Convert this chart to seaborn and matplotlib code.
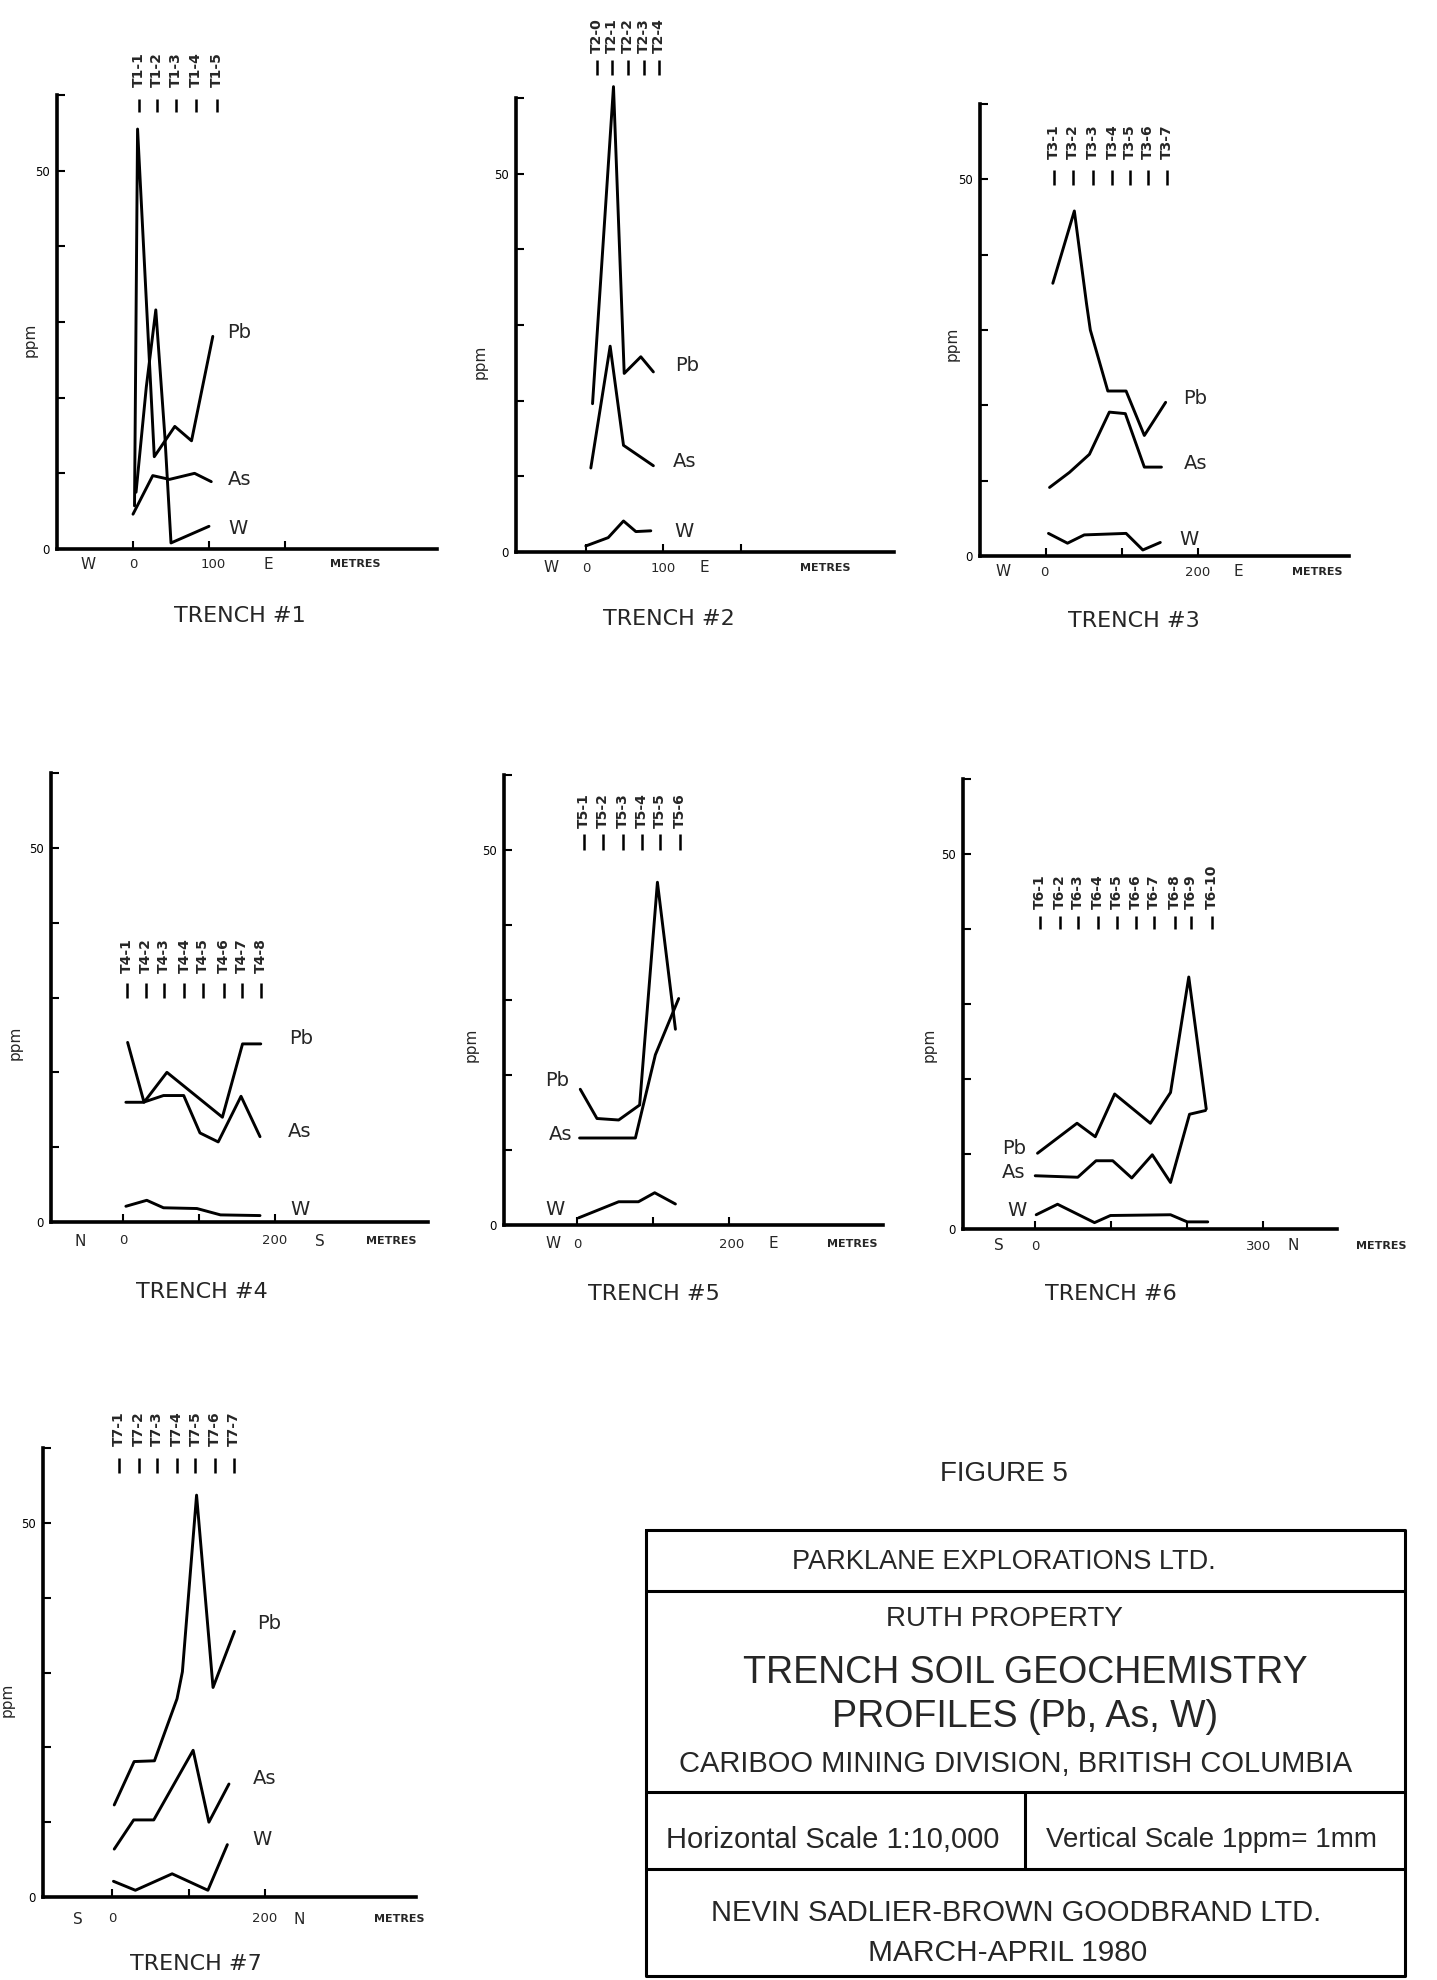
import matplotlib
matplotlib.use("Agg")
import matplotlib.pyplot as plt
import seaborn as sns
import pandas as pd

# ---------------- DATA (metres along trench, ppm) ----------------
T1_STATIONS = [8, 32, 57, 83, 110]
T1_SAMPLES = ["T1-1", "T1-2", "T1-3", "T1-4", "T1-5"]
T1_PB_M = [2, 6, 28, 55, 77, 105]
T1_PB = [5.7, 55.5, 12.2, 16.2, 14.3, 28.1]
T1_AS_M = [0, 26, 48, 81, 103]
T1_AS = [4.6, 9.7, 9.2, 10.0, 8.9]
T1_W_M = [4, 17.5, 30, 42, 50, 100]
T1_W = [7.5, 21.4, 31.6, 14.8, 0.8, 3.0]

T2_STATIONS = [14, 34, 54, 75, 94]
T2_SAMPLES = ["T2-0", "T2-1", "T2-2", "T2-3", "T2-4"]
T2_PB_M = [8.6, 35.6, 49.4, 70.8, 87]
T2_PB = [19.6, 61.5, 23.6, 25.8, 23.8]
T2_AS_M = [6.4, 31.3, 48.5, 87]
T2_AS = [11.1, 27.2, 14.1, 11.4]
T2_W_M = [0, 28.8, 48.5, 64.4, 83.7]
T2_W = [0.8, 1.9, 4.1, 2.7, 2.8]

T3_STATIONS = [10, 35, 61, 87, 110, 134, 159]
T3_SAMPLES = ["T3-1", "T3-2", "T3-3", "T3-4", "T3-5", "T3-6", "T3-7"]
T3_PB_M = [8.7, 37, 53, 58, 81, 105, 129, 157]
T3_PB = [36.2, 45.8, 33.5, 30.0, 21.9, 21.9, 16.0, 20.4]
T3_AS_M = [4.4, 30.6, 56.8, 83, 104, 129, 151.5]
T3_AS = [9.1, 11.1, 13.5, 19.1, 18.9, 11.8, 11.8]
T3_W_M = [3, 28, 50, 105, 127, 150]
T3_W = [3.0, 1.7, 2.8, 3.0, 0.8, 1.8]

T4_STATIONS = [4.4, 29.6, 54, 80.5, 105, 132, 156, 181]
T4_SAMPLES = ["T4-1", "T4-2", "T4-3", "T4-4", "T4-5", "T4-6", "T4-7", "T4-8"]
T4_PB_M = [5.8, 27.4, 57.5, 130.5, 157, 181]
T4_PB = [24.0, 16.0, 20.0, 14.0, 23.8, 23.8]
T4_AS_M = [3.5, 26.5, 53, 79.6, 101, 125, 155, 180]
T4_AS = [16.0, 16.0, 16.9, 16.9, 11.9, 10.7, 16.8, 11.4]
T4_W_M = [3.5, 31, 53, 97, 128, 180]
T4_W = [2.1, 2.9, 1.9, 1.8, 0.95, 0.86]

T5_STATIONS = [8.8, 34.3, 60.2, 85.7, 109, 135.4]
T5_SAMPLES = ["T5-1", "T5-2", "T5-3", "T5-4", "T5-5", "T5-6"]
T5_PB_M = [4.4, 26.4, 55, 82.6, 106, 129.7]
T5_PB = [18.1, 14.2, 14.0, 16.0, 45.7, 26.1]
T5_AS_M = [3.5, 77, 103.3, 134]
T5_AS = [11.6, 11.6, 22.7, 30.2]
T5_W_M = [2.2, 55, 81, 102.4, 129.7]
T5_W = [0.95, 3.1, 3.1, 4.3, 2.8]

T6_STATIONS = [6.6, 32, 56, 83, 108, 132, 156, 184, 205, 232]
T6_SAMPLES = ["T6-1", "T6-2", "T6-3", "T6-4", "T6-5", "T6-6", "T6-7", "T6-8", "T6-9", "T6-10"]
T6_PB_M = [3, 55, 79, 104.5, 151.5, 178, 202, 225]
T6_PB = [10.1, 14.1, 12.3, 18.0, 14.1, 18.2, 33.6, 16.0]
T6_AS_M = [0, 56, 80, 102, 127, 154, 178, 203, 224]
T6_AS = [7.1, 6.9, 9.1, 9.1, 6.8, 9.9, 6.2, 15.3, 15.8]
T6_W_M = [1.3, 29.4, 78, 99, 178, 200, 227]
T6_W = [1.9, 3.3, 0.85, 1.8, 1.9, 0.95, 0.95]

T7_STATIONS = [9.6, 35, 59, 85, 109, 134.5, 159.4]
T7_SAMPLES = ["T7-1", "T7-2", "T7-3", "T7-4", "T7-5", "T7-6", "T7-7"]
T7_PB_M = [3, 29, 55.5, 85, 92, 110.5, 132, 160]
T7_PB = [12.3, 18.1, 18.2, 26.5, 30.1, 53.7, 28.0, 35.5]
T7_AS_M = [3, 28.4, 54.6, 106, 126.6, 152.8]
T7_AS = [6.4, 10.3, 10.3, 19.6, 10.0, 15.1]
T7_W_M = [2, 30.6, 78.6, 125.3, 150.7]
T7_W = [2.1, 0.9, 3.1, 0.9, 7.0]

ELEMENTS = ["Pb", "As", "W"]

SERIES = {
    1: [(T1_PB_M, T1_PB), (T1_AS_M, T1_AS), (T1_W_M, T1_W)],
    2: [(T2_PB_M, T2_PB), (T2_AS_M, T2_AS), (T2_W_M, T2_W)],
    3: [(T3_PB_M, T3_PB), (T3_AS_M, T3_AS), (T3_W_M, T3_W)],
    4: [(T4_PB_M, T4_PB), (T4_AS_M, T4_AS), (T4_W_M, T4_W)],
    5: [(T5_PB_M, T5_PB), (T5_AS_M, T5_AS), (T5_W_M, T5_W)],
    6: [(T6_PB_M, T6_PB), (T6_AS_M, T6_AS), (T6_W_M, T6_W)],
    7: [(T7_PB_M, T7_PB), (T7_AS_M, T7_AS), (T7_W_M, T7_W)],
}
STATIONS = {1: (T1_STATIONS, T1_SAMPLES), 2: (T2_STATIONS, T2_SAMPLES),
            3: (T3_STATIONS, T3_SAMPLES), 4: (T4_STATIONS, T4_SAMPLES),
            5: (T5_STATIONS, T5_SAMPLES), 6: (T6_STATIONS, T6_SAMPLES),
            7: (T7_STATIONS, T7_SAMPLES)}

# ---------------- LAYOUT ----------------
W_PX, H_PX = 1437, 1980
PANEL_PX = {1: (57, 437, 95, 549), 2: (516, 894, 98, 552), 3: (980, 1349, 104, 556),
            4: (51, 428, 773, 1222), 5: (504, 883, 775, 1225), 6: (963, 1337, 779, 1229),
            7: (43, 416, 1448, 1897)}
XLIM = {1: (-100, 400), 2: (-90, 397), 3: (-87, 398), 4: (-95, 401),
        5: (-96, 403), 6: (-95, 397), 7: (-90, 397)}
XTICKS = {1: [0, 100, 200], 2: [0, 100, 200], 3: [0, 100, 200], 4: [0, 100, 200],
          5: [0, 100, 200], 6: [0, 100, 200, 300], 7: [0, 100, 200]}
XLABELS = {
    1: [("W", -59), ("0", 0), ("100", 105), ("E", 178), ("METRES", 292)],
    2: [("W", -45), ("0", 0), ("100", 100), ("E", 152), ("METRES", 309)],
    3: [("W", -57), ("0", -2), ("200", 199), ("E", 253), ("METRES", 356)],
    4: [("N", -57), ("0", 0), ("200", 199), ("S", 259), ("METRES", 352)],
    5: [("W", -31), ("0", 0), ("200", 204), ("E", 259), ("METRES", 363)],
    6: [("S", -48), ("0", 0), ("300", 294), ("N", 340), ("METRES", 455)],
    7: [("S", -44), ("0", 0), ("200", 199), ("N", 244), ("METRES", 375)],
}
XLABEL_OFF = {1: 15, 2: 16, 3: 16, 4: 19, 5: 19, 6: 17, 7: 22}
EL_POS = {
    1: [(140, 28.6), (140, 9.2), (138, 2.7)],
    2: [(131, 24.7), (127, 12.0), (127, 2.7)],
    3: [(196, 20.9), (196, 12.3), (188, 2.2)],
    4: [(234, 24.5), (232, 12.1), (232, 1.7)],
    5: [(-26, 19.2), (-22, 12.1), (-29, 2.1)],
    6: [(-28, 10.8), (-28, 7.5), (-24, 2.5)],
    7: [(205, 36.6), (199, 15.8), (196, 7.7)],
}
TICK_Y = {1: (57.8, 59.5), 2: (63, 65), 3: (49.3, 51.2), 4: (30, 31.9),
          5: (50, 52.1), 6: (40, 41.8), 7: (56.7, 58.7)}
LABEL_BASE = {1: 61, 2: 66, 3: 52.7, 4: 33.3, 5: 53, 6: 42.6, 7: 60.3}
YLABEL_POS = {1: (-0.05, 0.46), 2: (-0.074, 0.42), 3: (-0.055, 0.47), 4: (-0.074, 0.40),
              5: (-0.067, 0.40), 6: (-0.07, 0.41), 7: (-0.075, 0.44)}
TITLE_POS = {1: (240, 616), 2: (669, 619), 3: (1134, 621), 4: (202, 1292),
             5: (654, 1294), 6: (1111, 1294), 7: (196, 1964)}

sns.set_theme(style="white")
plt.rcParams['font.family'] = ['DejaVu Sans']

fig = plt.figure(figsize=(W_PX / 100, H_PX / 100), dpi=100)
fig.patch.set_facecolor("white")

for n in range(1, 8):
    L, R, T, B = PANEL_PX[n]
    ax = fig.add_axes([L / W_PX, 1 - B / H_PX, (R - L) / W_PX, (B - T) / H_PX])
    ax.set_facecolor("none")
    ax.set_xlim(*XLIM[n])
    ax.set_ylim(0, 60)
    for (m, v), el, (lx, ly) in zip(SERIES[n], ELEMENTS, EL_POS[n]):
        df = pd.DataFrame({"metres": m, "ppm": v})
        sns.lineplot(data=df, x="metres", y="ppm", ax=ax, color="black",
                     linewidth=2.1, sort=False, estimator=None, clip_on=False)
        ax.text(lx, ly, el, fontsize=14, ha="center", va="center")
    st, labs = STATIONS[n]
    lo, hi = TICK_Y[n]
    ax.vlines(st, lo, hi, color="black", linewidth=1.8, clip_on=False)
    for s, lab in zip(st, labs):
        ax.text(s, LABEL_BASE[n], lab, rotation=90, ha="center", va="bottom",
                fontsize=10, fontweight="bold", clip_on=False)
    for txt, m in XLABELS[n]:
        fs = 8 if txt == "METRES" else (9.5 if txt[0].isdigit() else 11)
        ax.annotate(txt, xy=(m, 0), xycoords=("data", "axes fraction"),
                    xytext=(0, -XLABEL_OFF[n] * 0.72), textcoords="offset points",
                    ha="center", va="center", fontsize=fs,
                    fontweight="bold" if txt == "METRES" else "normal",
                    annotation_clip=False)
    ax.set_xticks(XTICKS[n])
    ax.set_xticklabels([])
    ax.set_yticks(range(0, 61, 10))
    ax.set_yticklabels(["0", "", "", "", "", "50", ""])
    ax.tick_params(axis="x", direction="in", length=6, width=1.5, bottom=True, colors="black")
    ax.tick_params(axis="y", direction="in", length=6, width=1.5, left=True,
                   labelsize=8.5, pad=5, colors="black")
    ax.set_xlabel("")
    ax.set_ylabel("ppm", fontsize=11)
    ax.yaxis.set_label_coords(*YLABEL_POS[n])
    for s in ["top", "right"]:
        ax.spines[s].set_visible(False)
    for s in ["left", "bottom"]:
        ax.spines[s].set_linewidth(2.6)
        ax.spines[s].set_color("black")

ov = fig.add_axes([0, 0, 1, 1])
ov.set_xlim(0, W_PX)
ov.set_ylim(H_PX, 0)
ov.axis("off")
ov.patch.set_alpha(0)

for n in range(1, 8):
    x, y = TITLE_POS[n]
    ov.text(x, y, f"TRENCH #{n}", fontsize=16, ha="center", va="center")

BF = ['Liberation Sans', 'DejaVu Sans']
ov.text(1004, 1474, "FIGURE 5", fontsize=20, ha="center", va="center", family=BF)
bx0, bx1, by0, by1 = 646, 1405, 1530, 1976
lw = 2.2
ov.plot([bx0, bx1, bx1, bx0, bx0], [by0, by0, by1, by1, by0], color="black", lw=lw)
for yy in [1591, 1792, 1869]:
    ov.plot([bx0, bx1], [yy, yy], color="black", lw=lw)
ov.plot([1025, 1025], [1792, 1869], color="black", lw=lw)

ov.text(1004, 1562, "PARKLANE EXPLORATIONS LTD.", fontsize=19.5, ha="center", va="center", family=BF)
ov.text(1004, 1619, "RUTH PROPERTY", fontsize=20, ha="center", va="center", family=BF)
ov.text(1025, 1673, "TRENCH SOIL GEOCHEMISTRY", fontsize=27, ha="center", va="center", family=BF)
ov.text(1025, 1717, "PROFILES (Pb, As, W)", fontsize=27, ha="center", va="center", family=BF)
ov.text(1016, 1764, "CARIBOO MINING DIVISION, BRITISH COLUMBIA", fontsize=21, ha="center", va="center", family=BF)
ov.text(833, 1840, "Horizontal Scale 1:10,000", fontsize=21, ha="center", va="center", family=BF)
ov.text(1212, 1840, "Vertical Scale 1ppm= 1mm", fontsize=20, ha="center", va="center", family=BF)
ov.text(1016, 1913, "NEVIN SADLIER-BROWN GOODBRAND LTD.", fontsize=21, ha="center", va="center", family=BF)
ov.text(1008, 1953, "MARCH-APRIL 1980", fontsize=21.5, ha="center", va="center", family=BF)

fig.savefig("out.png", dpi=100, facecolor="white")
